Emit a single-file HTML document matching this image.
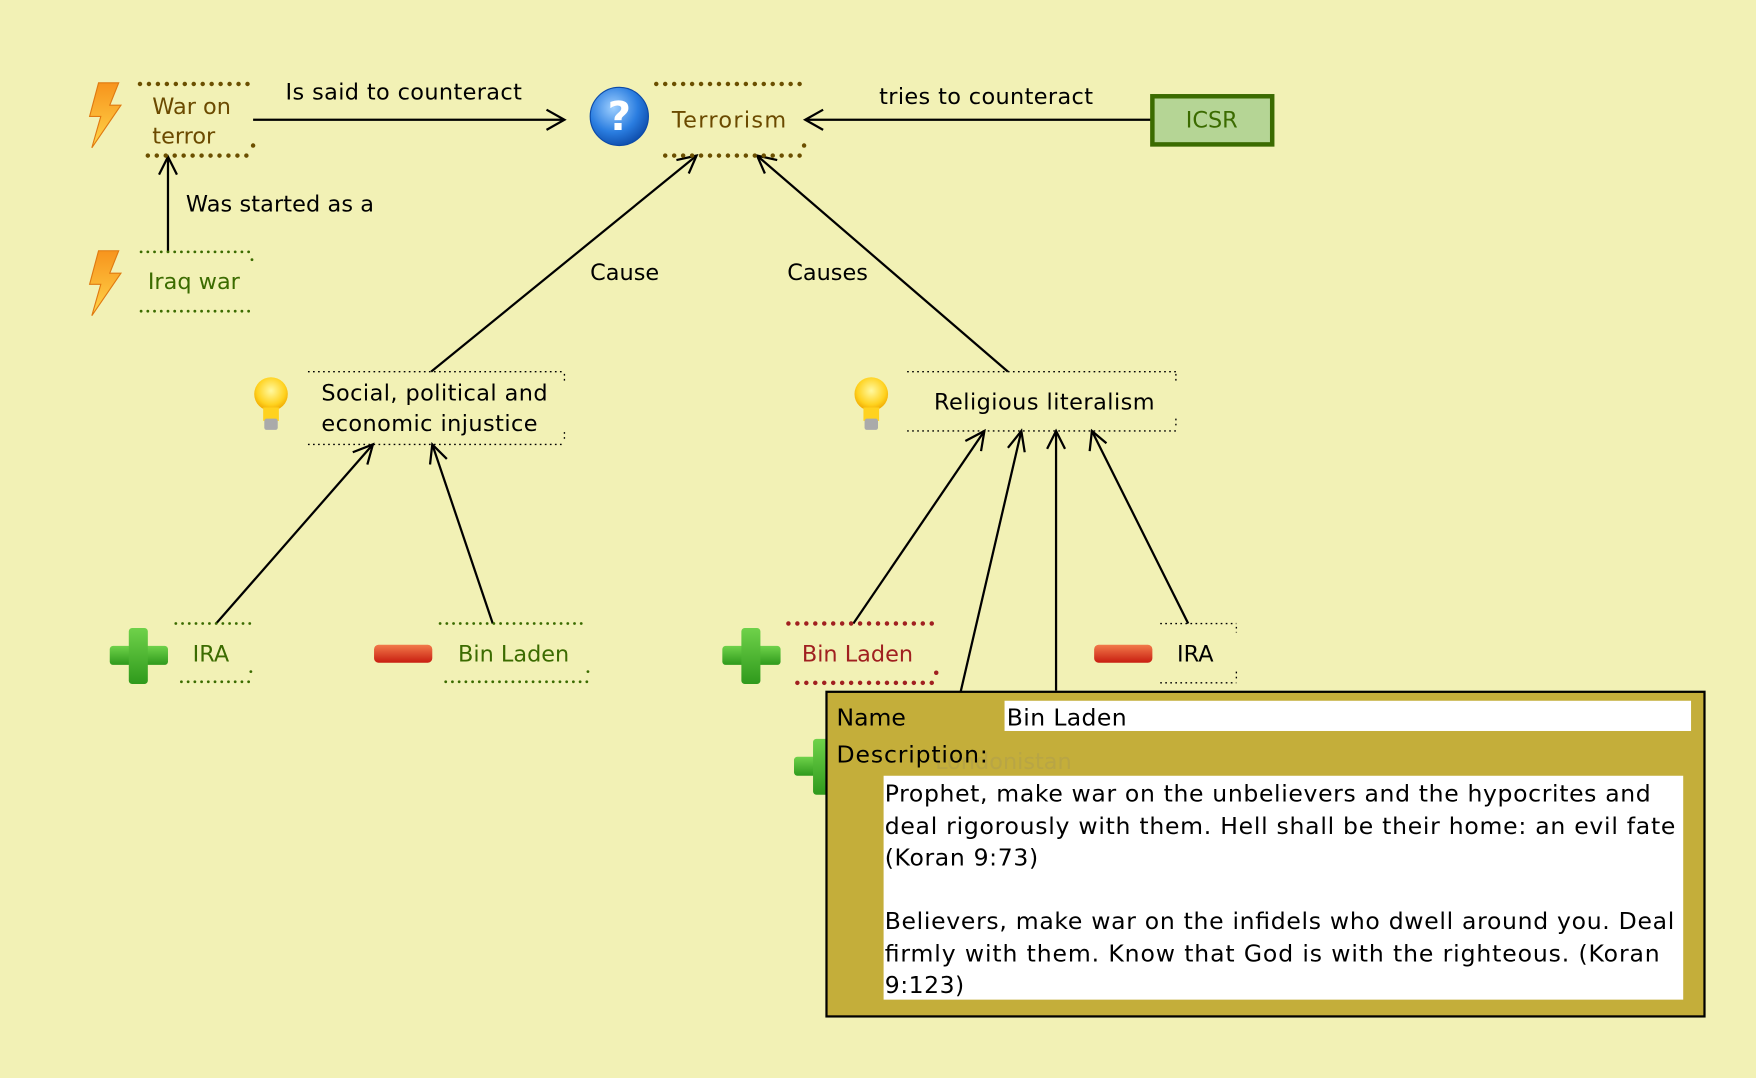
<!DOCTYPE html>
<html><head><meta charset="utf-8"><style>
html,body{margin:0;padding:0;background:#f2f1b5;}
svg{display:block;}
text{font-family:"DejaVu Sans","Liberation Sans",sans-serif;}
</style></head><body>
<svg width="1756" height="1078" viewBox="0 0 1568 963" preserveAspectRatio="none" xmlns="http://www.w3.org/2000/svg">
<defs>
<radialGradient id="q" cx="40%" cy="35%" r="70%"><stop offset="0" stop-color="#9fd0ff"/><stop offset="0.6" stop-color="#2a7de0"/><stop offset="1" stop-color="#0c4aa8"/></radialGradient>
<linearGradient id="bolt" x1="0" y1="0" x2="0" y2="1"><stop offset="0" stop-color="#f7941d"/><stop offset="1" stop-color="#ffd54a"/></linearGradient>
<radialGradient id="bulb" cx="50%" cy="40%" r="60%"><stop offset="0" stop-color="#fff9a0"/><stop offset="0.7" stop-color="#ffd21f"/><stop offset="1" stop-color="#f0a800"/></radialGradient>
<linearGradient id="plus" x1="0" y1="0" x2="0" y2="1"><stop offset="0" stop-color="#6fd24a"/><stop offset="1" stop-color="#2f9a1c"/></linearGradient>
<linearGradient id="minus" x1="0" y1="0" x2="0" y2="1"><stop offset="0" stop-color="#f27a4a"/><stop offset="1" stop-color="#c81e10"/></linearGradient>
<g id="boltI"><path d="M12 0 L30 0 L22 20 L32 20 L6 58 L14 30 L4 30 Z" fill="url(#bolt)" stroke="#e07a10" stroke-width="1"/></g>
<g id="bulbI"><circle cx="18" cy="18" r="15" fill="url(#bulb)"/><rect x="11" y="30" width="14" height="12" fill="#ffd21f"/><rect x="12" y="40" width="12" height="10" rx="2" fill="#aaa"/></g>
<g id="plusI"><rect x="0" y="16" width="52" height="17" rx="3" fill="url(#plus)"/><rect x="17" y="0" width="17" height="50" rx="3" fill="url(#plus)"/></g>
<g id="minusI"><rect x="0" y="0" width="52" height="16" rx="4" fill="url(#minus)"/></g>
</defs>
<rect width="1568" height="963" fill="#f2f1b5"/>

<g stroke="#000" stroke-width="2" fill="none">
<line x1="226" y1="107" x2="504" y2="107"/><polyline points="488,98 504,107 488,116"/>
<line x1="150" y1="225" x2="150" y2="140"/><polyline points="142,156 150,140 158,156"/>
<line x1="1028" y1="107" x2="719" y2="107"/><polyline points="735,98 719,107 735,116"/>
<line x1="385" y1="332" x2="622" y2="139"/><polyline points="604,143 622,139 615,155"/>
<line x1="900" y1="332" x2="676" y2="139"/><polyline points="683,155 676,139 694,143"/>
<line x1="193" y1="557" x2="333" y2="397"/><polyline points="315,404 333,397 328,415"/>
<line x1="440" y1="557" x2="386" y2="397"/><polyline points="384,415 386,397 399,410"/>
<line x1="762" y1="557" x2="879" y2="385"/><polyline points="862,394 879,385 876,403"/>
<line x1="855" y1="630" x2="912" y2="385"/><polyline points="900,400 912,385 915,404"/>
<line x1="943" y1="617" x2="943" y2="385"/><polyline points="935,401 943,385 951,401"/>
<line x1="1061" y1="557" x2="975" y2="385"/><polyline points="973,403 975,385 988,396"/>
</g>

<g font-size="20" fill="#000">
<text x="255" y="89" textLength="211">Is said to counteract</text>
<text x="785" y="93" textLength="191">tries to counteract</text>
<text x="166" y="189" textLength="168">Was started as a</text>
<text x="527" y="250">Cause</text>
<text x="703" y="250">Causes</text>
</g>

<use href="#boltI" x="76" y="74"/>
<g stroke="#6b4f00" stroke-width="4" stroke-linecap="round" stroke-dasharray="0 8" fill="none">
<line x1="125" y1="75" x2="226" y2="75"/><line x1="132" y1="139" x2="226" y2="139"/><line x1="226" y1="130" x2="226" y2="131"/>
<line x1="586" y1="75" x2="718" y2="75"/><line x1="594" y1="139" x2="718" y2="139"/><line x1="718" y1="130" x2="718" y2="131"/>
</g>
<text x="136" y="102" font-size="20" fill="#6b4a00">War on</text>
<text x="136" y="128" font-size="20" fill="#6b4a00">terror</text>

<circle cx="553" cy="104" r="26" fill="url(#q)" stroke="#0c4aa8" stroke-width="1"/>
<text x="553" y="116" font-size="36" font-weight="bold" fill="#fff" text-anchor="middle">?</text>
<text x="600" y="114" font-size="20" fill="#6b4a00" textLength="102">Terrorism</text>

<rect x="1029" y="86" width="107" height="43" fill="#b5d595" stroke="#3b6b00" stroke-width="4"/>
<text x="1082" y="114" font-size="20" fill="#3b6b00" text-anchor="middle">ICSR</text>

<use href="#boltI" x="76" y="224"/>
<g stroke="#3b6b00" stroke-width="2.5" stroke-linecap="round" stroke-dasharray="0 6" fill="none">
<line x1="126" y1="225" x2="225" y2="225"/><line x1="126" y1="278" x2="225" y2="278"/><line x1="225" y1="232" x2="225" y2="233"/>
<line x1="157" y1="557" x2="224" y2="557"/><line x1="162" y1="609" x2="224" y2="609"/><line x1="224" y1="600" x2="224" y2="601"/>
<line x1="393" y1="557" x2="525" y2="557"/><line x1="398" y1="609" x2="525" y2="609"/><line x1="525" y1="600" x2="525" y2="601"/>
</g>
<text x="132" y="258" font-size="20" fill="#3b6b00">Iraq war</text>

<g stroke="#000" stroke-width="1.2" stroke-dasharray="1.5 3" fill="none">
<line x1="275" y1="332" x2="504" y2="332"/><line x1="275" y1="397" x2="504" y2="397"/><line x1="504" y1="386" x2="504" y2="392"/><line x1="504" y1="334" x2="504" y2="340"/>
<line x1="810" y1="332" x2="1050" y2="332"/><line x1="810" y1="385" x2="1050" y2="385"/><line x1="1050" y1="374" x2="1050" y2="380"/><line x1="1050" y1="334" x2="1050" y2="340"/>
<line x1="1036" y1="557" x2="1104" y2="557"/><line x1="1036" y1="610" x2="1104" y2="610"/><line x1="1104" y1="560" x2="1104" y2="565"/><line x1="1104" y1="600" x2="1104" y2="606"/>
</g>
<use href="#bulbI" x="224" y="334"/>
<text x="287" y="358" font-size="20" fill="#000" textLength="202">Social, political and</text>
<text x="287" y="385" font-size="20" fill="#000" textLength="193">economic injustice</text>
<use href="#bulbI" x="760" y="334"/>
<text x="834" y="366" font-size="20" fill="#000" textLength="197">Religious literalism</text>

<use href="#plusI" x="98" y="561"/>
<text x="172" y="591" font-size="20" fill="#3b6b00">IRA</text>
<use href="#minusI" x="334" y="576"/>
<text x="409" y="591" font-size="20" fill="#3b6b00">Bin Laden</text>

<use href="#plusI" x="645" y="561"/>
<g stroke="#a02020" stroke-width="4" stroke-linecap="round" stroke-dasharray="0 8" fill="none">
<line x1="704" y1="557" x2="836" y2="557"/><line x1="712" y1="610" x2="836" y2="610"/><line x1="836" y1="601" x2="836" y2="602"/>
</g>
<text x="716" y="591" font-size="20" fill="#a02020">Bin Laden</text>
<use href="#minusI" x="977" y="576"/>
<text x="1051" y="591" font-size="20" fill="#000">IRA</text>

<use href="#plusI" x="709" y="660"/>

<rect x="738" y="618" width="784" height="290" fill="#c4ae3a" stroke="#000" stroke-width="2"/>
<text x="835" y="687" font-size="20" fill="#b8a545">Londonistan</text>
<rect x="897" y="626" width="613" height="27" fill="#fff"/>
<text x="747" y="648" font-size="21" fill="#000">Name</text>
<text x="899" y="648" font-size="21" fill="#000" textLength="107">Bin Laden</text>
<text x="747" y="681" font-size="21" fill="#000" textLength="135">Description:</text>
<rect x="789" y="693" width="714" height="200" fill="#fff"/>
<g font-size="21" fill="#000">
<text x="790" y="716" textLength="684">Prophet, make war on the unbelievers and the hypocrites and</text>
<text x="790" y="745" textLength="706">deal rigorously with them. Hell shall be their home: an evil fate</text>
<text x="790" y="773" textLength="137">(Koran 9:73)</text>
<text x="790" y="830" textLength="705">Believers, make war on the infidels who dwell around you. Deal</text>
<text x="790" y="859" textLength="692">firmly with them. Know that God is with the righteous. (Koran</text>
<text x="790" y="887" textLength="71">9:123)</text>
</g>
</svg>
</body></html>
